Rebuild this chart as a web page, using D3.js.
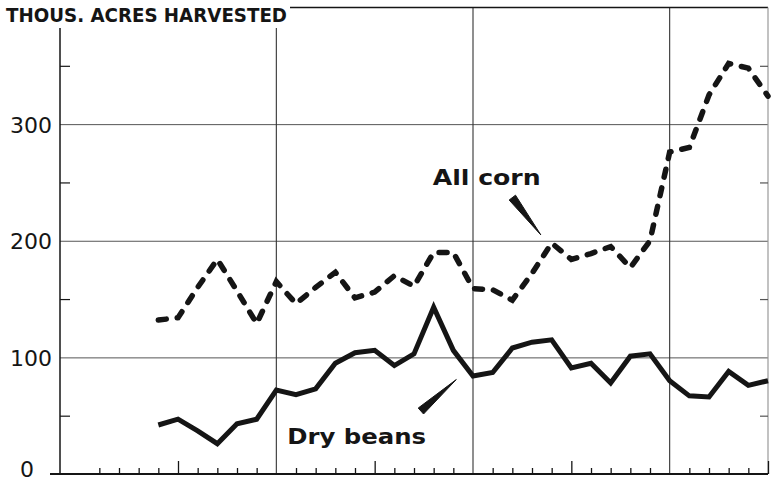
<!DOCTYPE html>
<html>
<head>
<meta charset="utf-8">
<script src="https://cdn.jsdelivr.net/npm/d3@7"></script>
<style>
  body { margin: 0; background: #fff; }
  svg { display: block; }
</style>
</head>
<body>
<svg id="chart" width="773" height="484"></svg>
<script>
const years = [1924, 1925, 1926, 1927, 1928, 1929, 1930, 1931, 1932, 1933, 1934,
  1935, 1936, 1937, 1938, 1939, 1940, 1941, 1942, 1943, 1944, 1945, 1946, 1947,
  1948, 1949, 1950, 1951, 1952, 1953, 1954, 1955];
const allCorn = [132, 134, 160, 184, 157, 129, 165, 146, 160, 173, 151, 156, 170,
  161, 190, 190, 159, 158, 149, 172, 198, 184, 189, 195, 177, 200, 276, 280, 325,
  352, 348, 324];
const dryBeans = [42, 47, 37, 26, 43, 47, 72, 68, 73, 95, 104, 106, 93, 103, 143,
  106, 84, 87, 108, 113, 115, 91, 95, 78, 101, 103, 80, 67, 66, 88, 76, 80];
const yLabels = [0, 100, 200, 300];
const yMinor = [50, 150, 250, 350];
const decades = [1930, 1940, 1950];

const svg = d3.select("#chart");
const x = d3.scaleLinear().domain([1919, 1955]).range([60, 768]);
const y = d3.scaleLinear().domain([0, 400]).range([474, 7.5]);
const ink = "#151515";

// horizontal grid
svg.append("g")
  .attr("transform", `translate(${x(1919)},0)`)
  .call(d3.axisLeft(y).tickValues([100, 200, 300]).tickSize(-(x(1955) - x(1919))).tickFormat(""))
  .call(g => g.select(".domain").remove())
  .call(g => g.selectAll("line").attr("stroke", "#555").attr("stroke-width", 1));

// vertical decade lines
svg.append("g")
  .selectAll("line")
  .data(decades)
  .join("line")
  .attr("x1", d => x(d)).attr("x2", d => x(d))
  .attr("y1", d => d === 1930 ? 28 : y(400))
  .attr("y2", y(0))
  .attr("stroke", "#333").attr("stroke-width", 1.1);

// frame: left axis, top, right
svg.append("line")
  .attr("x1", x(1919)).attr("x2", x(1919)).attr("y1", 28).attr("y2", y(0))
  .attr("stroke", ink).attr("stroke-width", 1.5);
svg.append("line")
  .attr("x1", 290).attr("x2", x(1955)).attr("y1", y(400)).attr("y2", y(400))
  .attr("stroke", ink).attr("stroke-width", 1.3);
svg.append("line")
  .attr("x1", x(1955)).attr("x2", x(1955)).attr("y1", y(400)).attr("y2", y(0))
  .attr("stroke", "#999").attr("stroke-width", 1.2);

// minor y ticks, left and right
svg.append("g")
  .attr("transform", `translate(${x(1919)},0)`)
  .call(d3.axisLeft(y).tickValues(yMinor).tickSize(-10).tickFormat(""))
  .call(g => g.select(".domain").remove())
  .call(g => g.selectAll("line").attr("stroke", ink).attr("stroke-width", 1.2));
svg.append("g")
  .attr("transform", `translate(${x(1955)},0)`)
  .call(d3.axisRight(y).tickValues(yMinor).tickSize(-8).tickFormat(""))
  .call(g => g.select(".domain").remove())
  .call(g => g.selectAll("line").attr("stroke", "#555").attr("stroke-width", 1.2));

// y labels
svg.append("g")
  .attr("transform", `translate(${x(1919)},0)`)
  .call(d3.axisLeft(y).tickValues(yLabels).tickSize(0).tickPadding(8))
  .call(g => g.select(".domain").remove())
  .call(g => g.selectAll("text")
    .attr("font-family", "'DejaVu Sans', sans-serif")
    .attr("font-size", 22)
    .attr("fill", ink)
    .attr("dx", d => d === 0 ? -18 : 0)
    .attr("dy", d => d === 0 ? "0.1em" : "0.36em"));

// x axis with yearly ticks pointing up
const tickYears = d3.range(1920, 1956);
svg.append("g")
  .attr("transform", `translate(0,${y(0)})`)
  .call(d3.axisBottom(x).tickValues(tickYears).tickSize(0).tickFormat(""))
  .call(g => g.select(".domain").remove())
  .call(g => g.selectAll(".tick line")
    .attr("y2", d => d % 5 === 0 ? (d % 10 === 0 ? 0 : -13) : -6)
    .attr("stroke", ink).attr("stroke-width", 1.3));
svg.append("line")
  .attr("x1", 50).attr("x2", x(1955)).attr("y1", y(0)).attr("y2", y(0))
  .attr("stroke", ink).attr("stroke-width", 2);

// series
const line = vals => d3.line().x((d, i) => x(years[i])).y(d => y(d))(vals);
svg.append("path")
  .attr("d", line(dryBeans))
  .attr("fill", "none").attr("stroke", ink).attr("stroke-width", 5)
  .attr("stroke-linejoin", "miter");
svg.append("path")
  .attr("d", line(allCorn))
  .attr("fill", "none").attr("stroke", ink).attr("stroke-width", 5.5)
  .attr("stroke-dasharray", "8,11").attr("stroke-linecap", "round");

// title
svg.append("text")
  .attr("x", 6).attr("y", 22)
  .attr("font-family", "'DejaVu Sans', sans-serif")
  .attr("font-weight", "bold").attr("font-size", 19)
  .attr("textLength", 281).attr("lengthAdjust", "spacingAndGlyphs")
  .attr("fill", ink)
  .text("THOUS. ACRES HARVESTED");

// labels with wedge pointers
const notes = [
  {text: "All corn", tx: 1937.95, ty: 248, len: 108, from: [1942.0, 237], to: [1943.45, 205]},
  {text: "Dry beans", tx: 1930.55, ty: 26, len: 139, from: [1937.35, 54], to: [1939.15, 81]}
];
for (let n of notes) {
  svg.append("text")
    .attr("x", x(n.tx)).attr("y", y(n.ty))
    .attr("font-family", "'DejaVu Sans', sans-serif")
    .attr("font-weight", "bold").attr("font-size", 21)
    .attr("textLength", n.len).attr("lengthAdjust", "spacingAndGlyphs")
    .attr("fill", ink)
    .text(n.text);
  let [x1, y1] = [x(n.from[0]), y(n.from[1])];
  let [x2, y2] = [x(n.to[0]), y(n.to[1])];
  let len = Math.hypot(x2 - x1, y2 - y1);
  let [px, py] = [-(y2 - y1) / len * 4, (x2 - x1) / len * 4];
  svg.append("path")
    .attr("d", `M${x1 + px},${y1 + py}L${x2},${y2}L${x1 - px},${y1 - py}Z`)
    .attr("fill", ink).attr("stroke", ink).attr("stroke-width", 1)
    .attr("stroke-linejoin", "round");
}
</script>
</body>
</html>
